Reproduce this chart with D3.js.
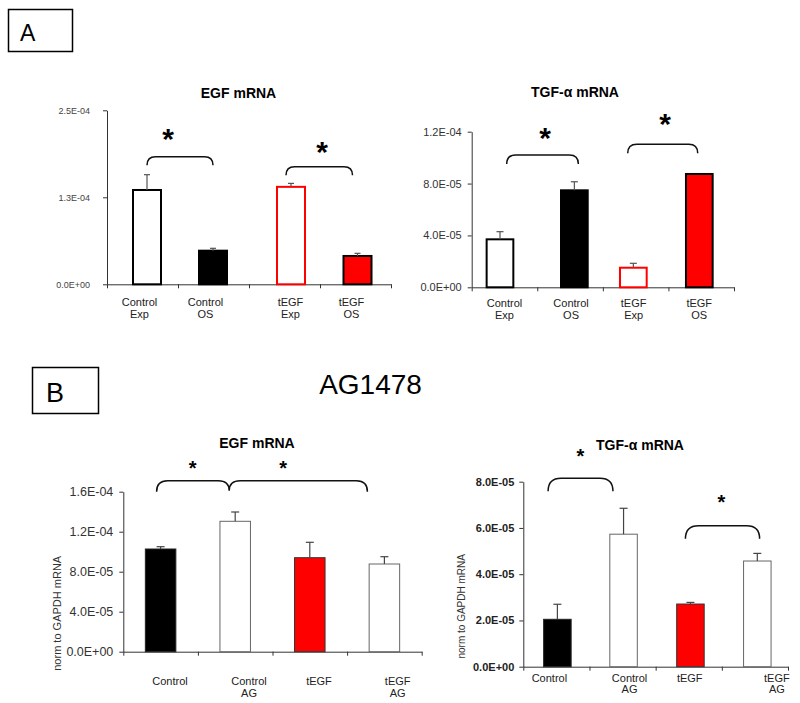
<!DOCTYPE html>
<html><head><meta charset="utf-8">
<script src="https://cdn.jsdelivr.net/npm/d3@7"></script>
<style>
body{margin:0;background:#fff;}
svg text{font-family:"Liberation Sans",Arial,sans-serif;}
</style></head>
<body>
<svg id="chart" width="800" height="703"></svg>
<script>
// ---------- data ----------
const catsA = ["Control\nExp", "Control\nOS", "tEGF\nExp", "tEGF\nOS"];
const catsB = ["Control", "Control\nAG", "tEGF", "tEGF\nAG"];

const egfA = [1.355e-4, 4.83e-5, 1.40e-4, 4.07e-5];
const egfAErr = [2.2e-5, 3.4e-6, 5.0e-6, 3.8e-6];
const tgfA = [3.70e-5, 7.48e-5, 1.51e-5, 8.74e-5];
const tgfAErr = [5.9e-6, 6.6e-6, 3.4e-6, 0];

const egfB = [1.027e-4, 1.304e-4, 9.40e-5, 8.77e-5];
const egfBErr = [2.3e-6, 9.3e-6, 1.54e-5, 7.3e-6];
const tgfB = [2.05e-5, 5.73e-5, 2.71e-5, 4.57e-5];
const tgfBErr = [6.5e-6, 1.12e-5, 7.0e-7, 3.3e-6];

const ticksEgfA = [0, 1.25e-4, 2.5e-4];
const tickLabelsEgfA = ["0.0E+00", "1.3E-04", "2.5E-04"];
const ticksTgfA = [0, 4e-5, 8e-5, 1.2e-4];
const tickLabelsTgfA = ["0.0E+00", "4.0E-05", "8.0E-05", "1.2E-04"];
const ticksEgfB = [0, 4e-5, 8e-5, 1.2e-4, 1.6e-4];
const tickLabelsEgfB = ["0.0E+00", "4.0E-05", "8.0E-05", "1.2E-04", "1.6E-04"];
const ticksTgfB = [0, 2e-5, 4e-5, 6e-5, 8e-5];
const tickLabelsTgfB = ["0.0E+00", "2.0E-05", "4.0E-05", "6.0E-05", "8.0E-05"];

// ---------- styles ----------
const RED = "#ff0000";
const stylesA = [
  {fill:"#fff", stroke:"#000"}, {fill:"#000", stroke:"#000"},
  {fill:"#fff", stroke:RED}, {fill:RED, stroke:"#000"}];
const stylesB = [
  {fill:"#000", stroke:"#222"}, {fill:"#fff", stroke:"#666"},
  {fill:RED, stroke:"#333"}, {fill:"#fff", stroke:"#666"}];

const svg = d3.select("#chart");

function panel(cfg) {
  const g = svg.append("g");
  const x = d3.scaleBand().domain(d3.range(cfg.cats.length)).range([cfg.x0, cfg.x1]).paddingInner(0).paddingOuter(0);
  const xi = d3.scaleLinear().domain([0, cfg.cats.length]).range([cfg.x0, cfg.x1]);
  const y = d3.scaleLinear().domain([0, cfg.ticks[cfg.ticks.length-1]]).range([cfg.yb, cfg.yt]);
  const cx = i => x(i) + x.bandwidth()/2 + (cfg.barDx ? cfg.barDx[i] : 0);

  // y axis
  const ya = g.append("g").attr("transform", `translate(${cfg.x0},0)`)
    .call(d3.axisLeft(y).tickValues(cfg.ticks).tickFormat((d,i)=>cfg.tickLabels[i]).tickSize(4).tickSizeOuter(0).tickPadding(cfg.tickPad));
  ya.select(".domain").attr("stroke", "#333");
  ya.selectAll(".tick line").attr("stroke", "#333");
  ya.selectAll(".tick text").attr("font-size", cfg.tickFs).attr("fill", cfg.tickColor)
    .attr("font-weight", cfg.tickBold ? "bold" : "normal").attr("font-family", '"Liberation Sans",Arial,sans-serif');

  // x axis
  const xa = g.append("g").attr("transform", `translate(0,${cfg.yb})`)
    .call(d3.axisBottom(xi).tickValues(d3.range(cfg.cats.length+1)).tickFormat("").tickSize(4).tickSizeOuter(0));
  xa.select(".domain").attr("stroke", "#333");
  xa.selectAll(".tick line").attr("stroke", "#333");

  // bars
  g.selectAll("rect.bar").data(cfg.vals).join("rect").attr("class","bar")
    .attr("x", (d,i)=>cx(i)-cfg.bw/2).attr("width", cfg.bw)
    .attr("y", d=>y(d)).attr("height", d=>cfg.yb - y(d))
    .attr("fill", (d,i)=>cfg.styles[i].fill).attr("stroke", (d,i)=>cfg.styles[i].stroke)
    .attr("stroke-width", cfg.sw);

  // error bars
  const eg = g.append("g").attr("stroke", cfg.errColor).attr("stroke-width", 1.2);
  cfg.vals.forEach((v,i)=>{
    const e = cfg.errs[i];
    if (!e) return;
    eg.append("line").attr("x1", cx(i)).attr("x2", cx(i)).attr("y1", y(v)).attr("y2", y(v+e));
    eg.append("line").attr("x1", cx(i)-cfg.cap).attr("x2", cx(i)+cfg.cap).attr("y1", y(v+e)).attr("y2", y(v+e));
  });

  // x labels
  cfg.cats.forEach((c,i)=>{
    const t = g.append("text").attr("text-anchor","middle").attr("font-size", 11).attr("fill","#222");
    c.split("\n").forEach((line,k)=>{
      t.append("tspan").attr("x", x(i)+x.bandwidth()/2 + cfg.labelDx[i]).attr("y", cfg.labelY + k*cfg.lineH).text(line);
    });
  });

  // title
  g.append("text").attr("x", cfg.titleX).attr("y", cfg.titleY).attr("text-anchor","middle")
    .attr("font-size", 14).attr("font-weight","bold").text(cfg.title);

  // y title
  if (cfg.yTitle) {
    g.append("text").attr("transform", `translate(${cfg.yTitleX},${cfg.yTitleY}) rotate(-90)`)
      .attr("text-anchor","middle").attr("dominant-baseline","central")
      .attr("font-size", cfg.yTitleFs).attr("fill","#333").text(cfg.yTitle);
  }

  // significance brackets
  cfg.brackets.forEach(b=>{
    const xa1 = cx(b.a) + b.dxa, xb1 = cx(b.b) + b.dxb;
    const yt = y(b.level), ye = yt + b.leg, r = b.leg;
    let d;
    if (b.mid !== undefined) {
      const xm = cx(b.mid) + b.dxm;
      d = `M${xa1},${ye} Q${xa1},${yt} ${xa1+r},${yt} L${xm-r},${yt} Q${xm},${yt} ${xm},${ye-1} Q${xm},${yt} ${xm+r},${yt} L${xb1-r},${yt} Q${xb1},${yt} ${xb1},${ye}`;
    } else {
      d = `M${xa1},${ye} Q${xa1},${yt} ${xa1+r},${yt} L${xb1-r},${yt} Q${xb1},${yt} ${xb1},${ye}`;
    }
    g.append("path").attr("d", d).attr("fill","none").attr("stroke","#111").attr("stroke-width",1.5);
  });
  cfg.stars.forEach(s=>{
    const sx = cx(s.a) + s.dx;
    g.append("text").attr("x", sx).attr("y", y(s.level) + cfg.starFs*cfg.starK)
      .attr("text-anchor","middle").attr("font-size", cfg.starFs).attr("font-weight","bold").text("*");
  });
}

// ---------- panel frames ----------
svg.append("rect").attr("x",8.5).attr("y",9.5).attr("width",64).attr("height",42).attr("fill","none").attr("stroke","#000").attr("stroke-width",1.5);
svg.append("text").attr("x",20).attr("y",41).attr("font-size",23).text("A");
svg.append("rect").attr("x",32.5).attr("y",367.5).attr("width",66).attr("height",46).attr("fill","none").attr("stroke","#000").attr("stroke-width",1.5);
svg.append("text").attr("x",46).attr("y",401.5).attr("font-size",27).text("B");
svg.append("text").attr("x",370.5).attr("y",394).attr("text-anchor","middle").attr("font-size",28).text("AG1478");

// A left: EGF
panel({cats:catsA, vals:egfA, errs:egfAErr, styles:stylesA,
  x0:107, x1:391, yt:110.3, yb:284.3, ticks:ticksEgfA, tickLabels:tickLabelsEgfA,
  tickFs:9, tickColor:"#444", tickBold:false, tickPad:13,
  bw:28, barDx:[4.5,-0.5,6.5,2], sw:2, errColor:"#555", cap:3,
  labelDx:[-3,-8,6,-4], labelY:306, lineH:12,
  title:"EGF mRNA", titleX:238.5, titleY:98,
  brackets:[{a:0,b:1,dxa:0,dxb:0,level:1.833e-4,leg:8.5},{a:2,b:3,dxa:-5,dxb:-5,level:1.69e-4,leg:8.5}],
  stars:[{a:0,dx:21,level:2.145e-4},{a:2,dx:31,level:1.944e-4}], starFs:30, starK:0.45});

// A right: TGF-alpha
panel({cats:catsA, vals:tgfA, errs:tgfAErr, styles:stylesA,
  x0:471.7, x1:734, yt:131.7, yb:287.3, ticks:ticksTgfA, tickLabels:tickLabelsTgfA,
  tickFs:11, tickColor:"#333", tickBold:false, tickPad:6,
  bw:26.7, barDx:[-4.5,4.3,-2.3,-1.9], sw:2, errColor:"#555", cap:3.5,
  labelDx:[0,1,-2,-2], labelY:307, lineH:12,
  title:"TGF-\u03b1 mRNA", titleX:575, titleY:97,
  brackets:[{a:0,b:1,dxa:6.7,dxb:4,level:1.02e-4,leg:9},{a:2,b:3,dxa:-5.6,dxb:-1.6,level:1.103e-4,leg:9}],
  stars:[{a:0,dx:45,level:1.182e-4},{a:2,dx:31.7,level:1.29e-4}], starFs:30, starK:0.45});

// B left: EGF
panel({cats:catsB, vals:egfB, errs:egfBErr, styles:stylesB,
  x0:123.3, x1:421.7, yt:491.7, yb:651.7, ticks:ticksEgfB, tickLabels:tickLabelsEgfB,
  tickFs:12.5, tickColor:"#333", tickBold:false, tickPad:6,
  bw:30.5, barDx:[0,0,0,0], sw:1, errColor:"#444", cap:4,
  labelDx:[9.4,13.8,9.2,13.3], labelY:685, lineH:11.5,
  title:"EGF mRNA", titleX:257, titleY:447.5,
  yTitle:"norm to GAPDH mRNA", yTitleX:56.7, yTitleY:613.3, yTitleFs:11,
  brackets:[{a:0,b:3,mid:1,dxa:-4,dxm:-6,dxb:-17,level:1.71e-4,leg:11}],
  stars:[{a:0,dx:32,level:1.874e-4},{a:1,dx:48,level:1.874e-4}], starFs:20, starK:0.52});

// B right: TGF-alpha
panel({cats:catsB, vals:tgfB, errs:tgfBErr, styles:stylesB,
  x0:523.3, x1:788, yt:481.7, yb:666.7, ticks:ticksTgfB, tickLabels:tickLabelsTgfB,
  tickFs:11, tickColor:"#222", tickBold:true, tickPad:5,
  bw:27.5, barDx:[1,1,1.7,2.4], sw:1, errColor:"#444", cap:4,
  labelDx:[-7,7,1,22], labelY:681.5, lineH:11.5,
  title:"TGF-\u03b1 mRNA", titleX:640, titleY:450,
  yTitle:"norm to GAPDH mRNA", yTitleX:461.7, yTitleY:606.3, yTitleFs:10,
  brackets:[{a:0,b:1,dxa:-9.3,dxb:-10.6,level:8.15e-5,leg:13},{a:2,b:3,dxa:-5,dxb:2.3,level:6.10e-5,leg:13}],
  stars:[{a:0,dx:23,level:9.28e-5},{a:2,dx:31,level:7.25e-5}], starFs:20, starK:0.52});
</script>
</body></html>
